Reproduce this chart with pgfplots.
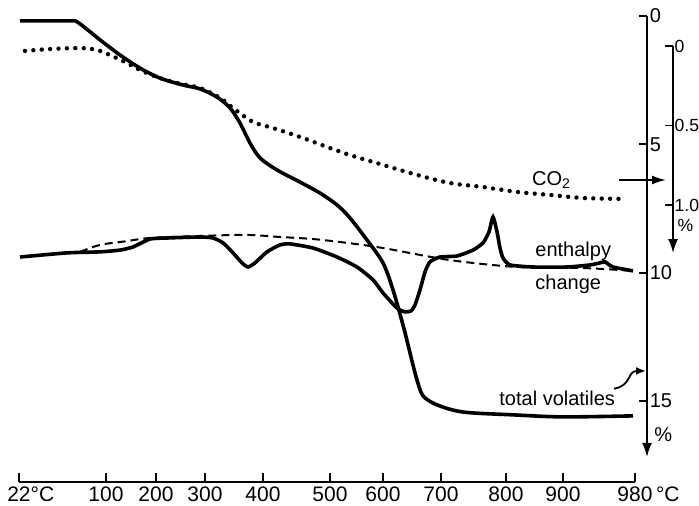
\documentclass[border=0pt]{standalone}
\usepackage{fontspec}
\setmainfont{Liberation Sans}
\usepackage{pgfplots}
\pgfplotsset{compat=1.18}
\usetikzlibrary{arrows.meta}

\tikzset{fnt/.style={font=\fontsize{10}{12}\selectfont},
         sfnt/.style={font=\fontsize{8.8}{10}\selectfont}}
% one horizontal unit = one position step along the heating run (not linear in temperature)
\pgfplotsset{
  chart/.style={x=0.5pt, xmin=19, enlargelimits=false, clip=false, anchor=north west},
}

\begin{document}
\begin{tikzpicture}
\useasboundingbox (0,0) rectangle (349.5pt,253pt);

% temperature scale
\begin{axis}[x=0.5pt, y=10pt, xmin=19, xmax=635, ymin=0, ymax=1, enlargelimits=false,
  at={(9.5pt,12pt)}, anchor=south west,
  axis x line=bottom, axis y line=none, x axis line style={-, line width=0.8pt},
  xtick={19,106,156,205,263,330,383,441,506,563,635},
  xticklabels={22\rlap{°C},100,200,300,400,500,600,700,800,900,980\rlap{\,°C}},
  xtick align=inside, major tick length=4.5pt, tick style={line width=0.8pt, black},
  ytick=\empty, xticklabel style={inner sep=2pt, font=\fontsize{10.5}{12}\selectfont}]
\addplot[draw=none] coordinates {(19,0.5)};
\end{axis}

% total volatiles scale, %
\begin{axis}[chart, at={(9.5pt,245pt)}, xmax=647, ymin=0, ymax=17.18, y=12.833pt, y dir=reverse,
  axis x line=none, axis y line=right,
  y axis line style={line width=0.9pt, -{Latex[length=7pt,width=5pt]}},
  ytick={0,5,10,15}, ytick align=inside, major tick length=4pt,
  tick style={line width=0.9pt, black},
  yticklabel style={inner sep=1.2pt, fnt}, /pgf/number format/assume math mode=true]
\addplot[draw=none] coordinates {(19,1)};
\node[anchor=west, inner sep=1pt, fnt] at (axis cs:652,16.32) {\%};
\end{axis}

% CO2 scale, %
\begin{axis}[chart, at={(9.5pt,230pt)}, xmax=673, ymin=0, ymax=1.302, y=79.5pt, y dir=reverse,
  axis x line=none, axis y line=right,
  y axis line style={line width=0.9pt, -{Latex[length=7pt,width=5pt]}},
  ytick={0,0.5,1}, yticklabels={0,0.5,1.0}, ytick align=inside, major tick length=4pt,
  tick style={line width=0.9pt, black},
  yticklabel style={inner sep=0.6pt, sfnt}]
\addplot[line width=2.2pt, line cap=round, dash pattern=on 0pt off 4.2pt, smooth, tension=0.5]
  table {
x c
25 0.031
50 0.019
80 0.013
97 0.025
110 0.057
127 0.107
140 0.151
157 0.195
177 0.233
200 0.264
220 0.327
233 0.390
253 0.478
273 0.516
300 0.572
327 0.635
350 0.686
383 0.748
417 0.811
450 0.862
483 0.887
517 0.918
550 0.937
583 0.956
623 0.962
};
\node[anchor=west, inner sep=0.6pt, sfnt] at (axis cs:676,1.13) {\%};
\end{axis}

% curves on the total volatiles scale
\begin{axis}[chart, at={(9.5pt,245pt)}, xmax=635, ymin=0, ymax=18.15, y=12.833pt, y dir=reverse,
  hide axis]
% total volatiles
\addplot[line width=1.8pt, smooth, tension=0.5] table {
x v
20 0.19
70 0.19
77 0.23
88 0.55
100 0.93
120 1.52
140 2.03
160 2.42
183 2.69
200 2.84
217 3.16
230 3.58
240 4.17
250 4.95
260 5.53
277 6.00
300 6.47
320 6.90
337 7.36
350 7.87
367 8.73
383 9.62
393 10.67
403 12.04
408 12.81
413 13.60
417 14.18
423 14.80
437 15.15
463 15.43
513 15.54
563 15.62
633 15.58
};
% enthalpy change
\addplot[line width=1.8pt, smooth, tension=0.35] table {
x v
20 9.39
67 9.23
100 9.19
120 9.12
133 9.00
150 8.69
167 8.65
200 8.61
213 8.65
223 8.84
233 9.23
242 9.62
248 9.78
255 9.62
267 9.19
280 8.92
290 8.88
313 9.04
337 9.39
357 9.78
373 10.28
383 10.79
397 11.38
405 11.53
411 11.49
415 11.26
420 10.67
425 9.97
430 9.58
440 9.39
457 9.35
473 9.12
483 8.84
489 8.41
493 7.83
497 8.41
500 9.04
503 9.43
510 9.70
533 9.78
567 9.78
590 9.70
600 9.62
605 9.58
613 9.78
633 9.93
};
% baseline
\addplot[line width=1pt, dash pattern=on 4pt off 2.5pt, smooth, tension=0.5] table {
x v
80 9.19
100 8.92
127 8.77
150 8.65
200 8.57
247 8.53
280 8.61
313 8.69
347 8.84
383 9.04
450 9.51
517 9.78
583 9.82
633 9.93
};
\node[anchor=east, fnt] at (axis cs:578,6.39) {CO\textsubscript{2}};
\draw[line width=0.9pt, -{Latex[length=7pt,width=4.5pt]}] (axis cs:619,6.39) -- (axis cs:666,6.39);
\node[anchor=base west, inner sep=0pt, fnt] at (axis cs:535,9.37) {enthalpy};
\node[anchor=base west, inner sep=0pt, fnt] at (axis cs:535,10.64) {change};
\node[anchor=base west, inner sep=0pt, fnt] at (axis cs:499,15.18) {total volatiles};
\draw[line width=0.9pt, -{Latex[length=5pt,width=4pt]}] (axis cs:614,14.52)
  .. controls (axis cs:632,14.40) and (axis cs:627,13.83) .. (axis cs:646,13.83);
\end{axis}
\end{tikzpicture}
\end{document}
